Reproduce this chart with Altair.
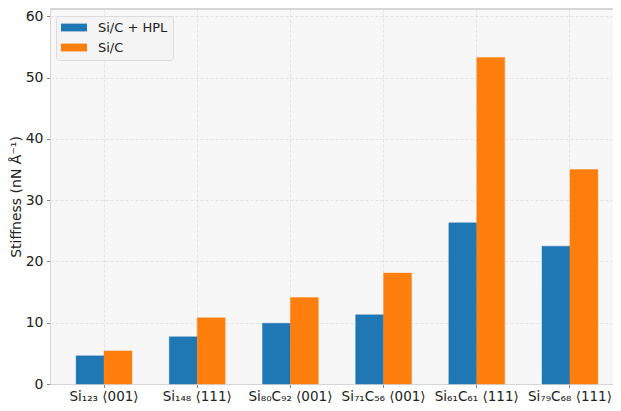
import altair as alt
import pandas as pd

categories = ["Si₁₂₃ ⟨001⟩", "Si₁₄₈ ⟨111⟩", "Si₈₀C₉₂ ⟨001⟩", "Si₇₁C₅₆ ⟨001⟩", "Si₆₁C₆₁ ⟨111⟩", "Si₇₉C₆₈ ⟨111⟩"]
series = ["Si/C + HPL", "Si/C"]
hpl_values = [4.6, 7.7, 9.9, 11.3, 26.3, 22.5]
sic_values = [5.4, 10.8, 14.1, 18.1, 53.3, 35.0]
colors = ["#1f77b4", "#ff7f0e"]
y_ticks = [0, 10, 20, 30, 40, 50, 60]

rows = []
for c, a, b in zip(categories, hpl_values, sic_values):
    rows.append({"cat": c, "series": series[0], "value": a})
    rows.append({"cat": c, "series": series[1], "value": b})
df = pd.DataFrame(rows)

font = "DejaVu Sans"
edge = "#d6d6d6"

bars = alt.Chart(df).mark_bar(strokeWidth=0.8, strokeOpacity=0.5).encode(
    x=alt.X("cat:N", sort=categories, title=None,
            scale=alt.Scale(paddingInner=0.4, paddingOuter=0.28, range=[0, 574]),
            axis=alt.Axis(labelAngle=0, labelFontSize=13.5, labelPadding=1.5,
                          grid=True, tickSize=3.5, domain=True, domainColor=edge)),
    xOffset=alt.XOffset("series:N", sort=series, scale=alt.Scale(paddingInner=0, paddingOuter=0)),
    y=alt.Y("value:Q", title="Stiffness (nN Å⁻¹)",
            scale=alt.Scale(domain=[0, 61.2], nice=False, zero=True),
            axis=alt.Axis(values=y_ticks, labelFontSize=14,
                          titleFontSize=14, titlePadding=2, tickSize=3.5,
                          labelPadding=3.5, domain=True, domainColor=edge)),
    color=alt.Color("series:N", sort=series,
                    scale=alt.Scale(domain=series, range=colors),
                    legend=alt.Legend(title=None, orient="none", legendX=6, legendY=7,
                                      symbolType="M-1,-0.6H3V0.6H-1Z", symbolSize=169,
                                      symbolStrokeWidth=0, labelFontSize=13,
                                      labelOffset=24, rowPadding=6, padding=5,
                                      fillColor="#f4f4f4", strokeColor="#dcdcdc",
                                      cornerRadius=3, labelColor="#222222")),
    stroke=alt.Color("series:N", sort=series,
                     scale=alt.Scale(domain=series, range=colors), legend=None),
)

top_border = alt.Chart(df).mark_rule(color=edge, strokeWidth=1).encode(
    y=alt.value(0), x=alt.value(0), x2=alt.value(600)
)

chart = alt.layer(bars, top_border).properties(
    width=605, height=395,
    padding={"left": 1, "top": 0, "right": 0, "bottom": 0},
    autosize=alt.AutoSizeParams(type="fit", contains="padding"),
).configure(font=font).configure_view(
    fill="#f7f7f7", stroke=None
).configure_axis(
    gridColor="#dedede", gridDash=[3, 2], gridWidth=0.8,
    tickColor="#888888", labelColor="#222222", titleColor="#222222",
    labelFont=font, titleFont=font, titleFontWeight="normal"
)

chart.save("out.html", embed_options={"renderer": "svg", "actions": False})
